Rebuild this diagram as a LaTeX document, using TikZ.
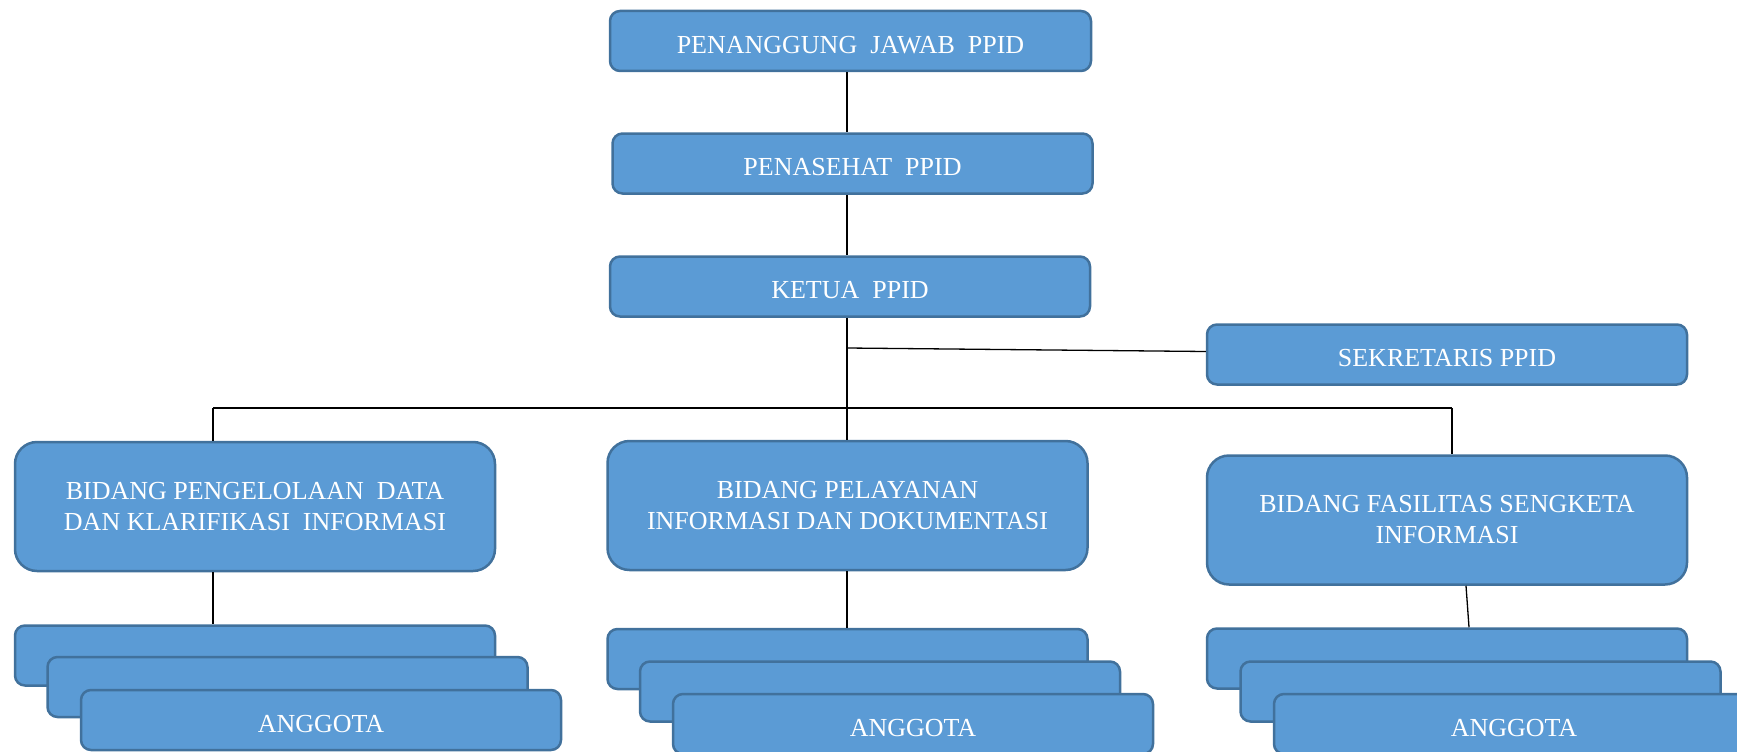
\documentclass[tikz,border=0pt]{standalone}
\usepackage{fontspec}
\setmainfont{Liberation Serif}
\usepackage{tikz}
\usetikzlibrary{calc}
\definecolor{boxfill}{HTML}{5B9BD5}
\definecolor{boxline}{HTML}{41719C}
\begin{document}
\begin{tikzpicture}[x=1pt, y=-1pt,
			unit/.style={draw=boxline, fill=boxfill, line width=2.5pt, rounded corners=10pt,
				text=white, align=center, inner sep=0pt, minimum width=480pt, minimum height=60pt,
				text height=24pt, text depth=0pt, font=\fontsize{26}{31}\selectfont},
			bidang/.style={unit, rounded corners=22pt, minimum height=129pt, text height=, text depth=},
			link/.style={line width=1.3pt}]
			\useasboundingbox (0,0) rectangle (1737,752);
			\node[unit, minimum width=481pt] (pj) at (850.5,41) {PENANGGUNG\ \ JAWAB\ \ PPID};
			\node[unit] (pen) at (852.5,163.5) {PENASEHAT\ \ PPID};
			\node[unit] (ketua) at (850,286.5) {KETUA\ \ PPID};
			\node[unit] (sek) at (1447,354.5) {SEKRETARIS PPID};
			\node[bidang] (bid1) at (255,506.5) {BIDANG PENGELOLAAN\ \ DATA\\DAN KLARIFIKASI\ \ INFORMASI};
			\node[bidang] (bid2) at (847.5,505.5) {BIDANG PELAYANAN\\INFORMASI DAN DOKUMENTASI};
			\node[bidang] (bid3) at (1447,520) {BIDANG FASILITAS SENGKETA\\INFORMASI};
			\node[unit] (a1) at (255,655.5) {};
			\node[unit] (a2) at (287.5,687) {};
			\node[unit] (a3) at (321,720) {ANGGOTA};
			\node[unit] (b1) at (847.5,659) {};
			\node[unit] (b2) at (880,691.5) {};
			\node[unit] (b3) at (913,724) {ANGGOTA};
			\node[unit] (c1) at (1447,658.5) {};
			\node[unit] (c2) at (1480.5,691.5) {};
			\node[unit] (c3) at (1514,724) {ANGGOTA};
			\coordinate (hub) at (847,348);
			\coordinate (busl) at (213,408);
			\coordinate (busr) at (1452,408);
			\path[link]
			(pj.south -| hub) edge (pen.north -| hub)
			(pen.south -| hub) edge (ketua.north -| hub)
			(ketua.south -| hub) edge (bid2.north -| hub)
			(hub) edge ($(sek.west)+(0,-3)$)
			(busl |- bid1.north) edge (busl)
			(busl) edge (busr)
			(busr) edge (busr |- bid3.north)
			(busl |- bid1.south) edge (busl |- a1.north)
			(bid2.south -| hub) edge (b1.north -| hub)
			($(bid3.south)+(19,0)$) edge ($(c1.north)+(22,0)$);
		\end{tikzpicture}
\end{document}
